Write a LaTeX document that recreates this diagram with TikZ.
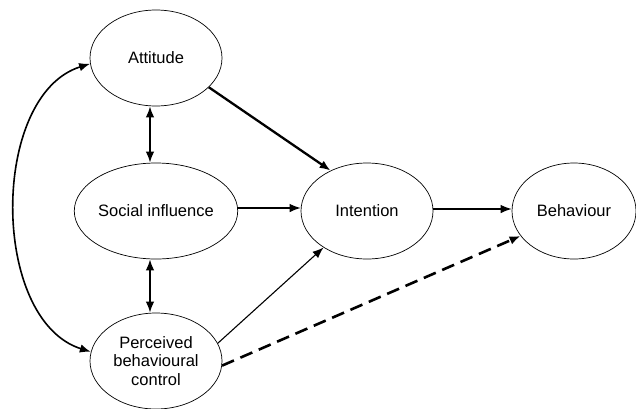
\documentclass[tikz,border=0pt]{standalone}
\usepackage{fontspec}
\setmainfont{Liberation Sans}
\usetikzlibrary{shapes.geometric,arrows.meta}
\begin{document}
\begin{tikzpicture}[x=1pt,y=1pt,
  oval/.style={ellipse,draw,line width=0.7pt,minimum width=132pt,minimum height=96pt,inner sep=0pt,
    font=\fontsize{16.5}{18.5}\selectfont,align=center},
  tip/.style={-{Latex[length=11pt,width=8.5pt]}},
  dtip/.style={{Latex[length=11pt,width=8.5pt]}-{Latex[length=11pt,width=8.5pt]}},
  thinline/.style={line width=1.1pt},
  medline/.style={line width=1.6pt},
  heavyline/.style={line width=2.3pt}]
\useasboundingbox (0,0) rectangle (636,-408);
\node[oval] (att) at (156,-58) {Attitude};
\node[oval] (soc) at (156,-211) {Social influence};
\node[oval] (pbc) at (156,-361) {Perceived\\behavioural\\control};
\node[oval] (int) at (367,-211) {Intention};
\node[oval,minimum width=124pt] (beh) at (574,-211) {Behaviour};
\draw[heavyline,tip] (att.-29) -- (int.132);
\draw[thinline,tip] (soc.east |- 0,-208) -- (int.west |- 0,-208);
\draw[thinline,tip] (pbc.16) -- (int.-140);
\draw[thinline,tip] (int.east |- 0,-209) -- (beh.west |- 0,-209);
\draw[line width=2.6pt,tip,dash pattern=on 13pt off 7pt] (pbc.-4) -- (beh.-155);
\draw[medline,dtip] (att.south -| 150,0) -- (soc.north -| 150,0);
\draw[medline,dtip] (soc.south -| 150,0) -- (pbc.north -| 150,0);
\draw[medline,dtip] (att.185) .. controls (-10,-95) and (-10,-320) .. (pbc.172);
\end{tikzpicture}
\end{document}
